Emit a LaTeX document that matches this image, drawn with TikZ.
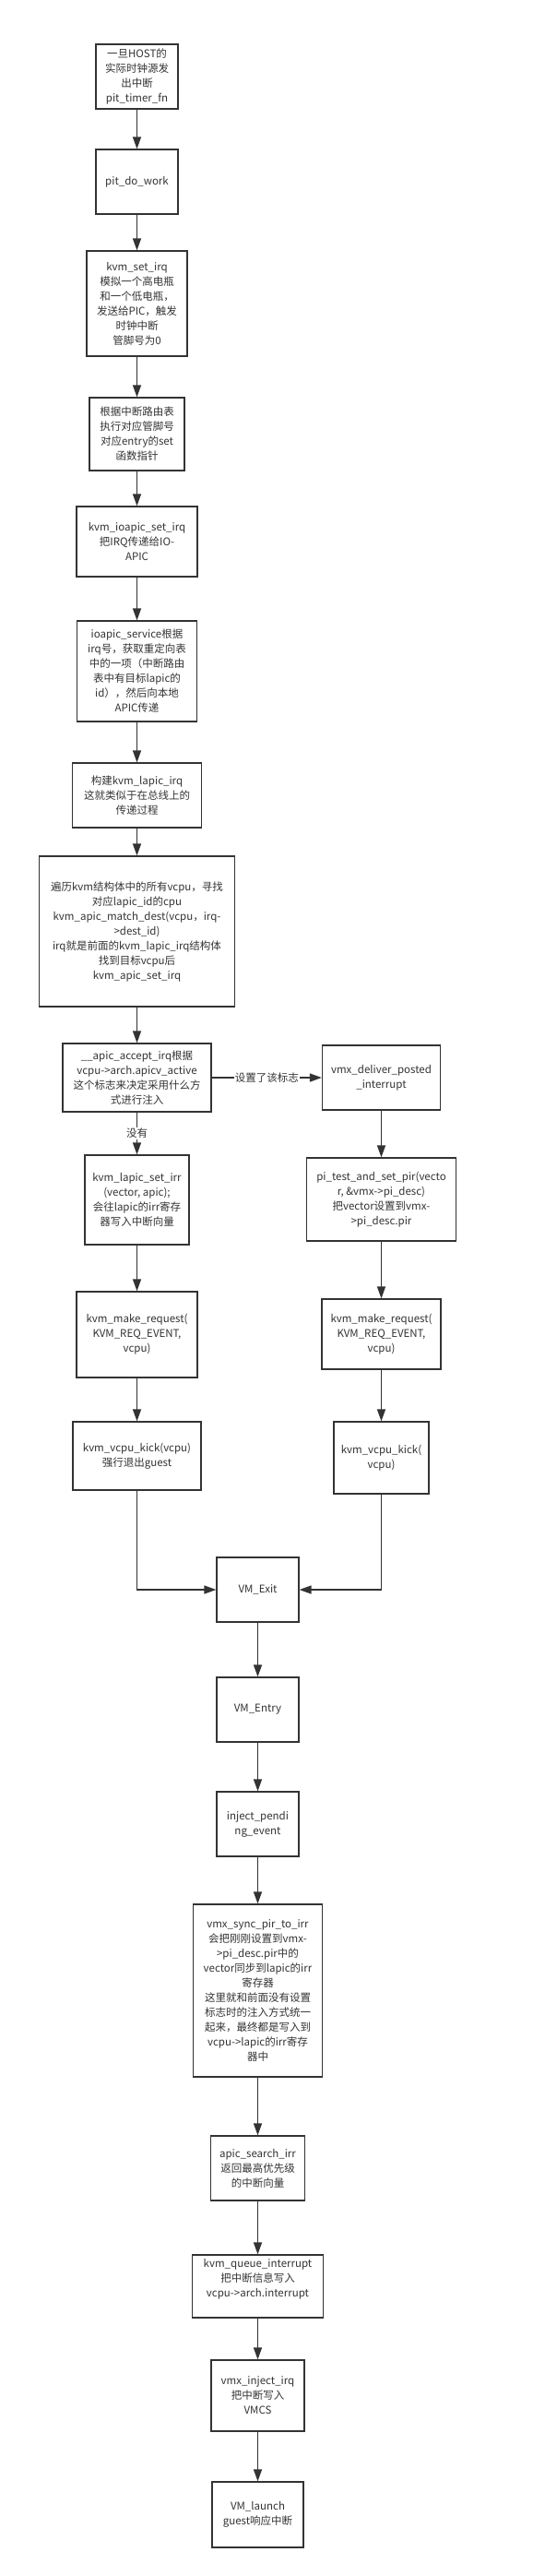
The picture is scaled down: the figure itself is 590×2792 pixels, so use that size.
\documentclass[tikz,border=0pt]{standalone}
\usepackage{fontspec}
\setmainfont{Noto Sans CJK SC}
\usetikzlibrary{arrows.meta}
\definecolor{ink}{HTML}{333333}
\tikzset{
  box/.style={draw=ink, line width=1.3pt, fill=white, text=ink, align=center, inner sep=0pt,
    font=\fontsize{11.5}{16}\selectfont},
  arr/.style={draw=ink, line width=1.4pt, -{Triangle[length=13pt,width=9pt]}},
  lbl/.style={fill=white, text=ink, inner sep=1pt, font=\fontsize{11.5}{16}\selectfont}
}
\begin{document}
\begin{tikzpicture}[x=1pt,y=-1pt]
\useasboundingbox (0,0) rectangle (590,2792);
% left column
\node[box, minimum width=89pt, minimum height=70pt] (n1) at (148.5,83) {一旦HOST的\\实际时钟源发\\出中断\\pit\_timer\_fn};
\node[box, minimum width=89pt, minimum height=70pt] (n2) at (148.5,197) {pit\_do\_work};
\node[box, minimum width=109pt, minimum height=114pt] (n3) at (148.5,329) {kvm\_set\_irq\\模拟一个高电瓶\\和一个低电瓶，\\发送给PIC，触发\\时钟中断\\管脚号为0};
\node[box, minimum width=103pt, minimum height=79pt] (n4) at (148.5,470.5) {根据中断路由表\\执行对应管脚号\\对应entry的set\\函数指针};
\node[box, minimum width=131pt, minimum height=76pt] (n5) at (148.5,587) {kvm\_ioapic\_set\_irq\\把IRQ传递给IO-\\APIC};
\node[box, minimum width=130pt, minimum height=109pt] (n6) at (148.5,727.5) {ioapic\_service根据\\irq号，获取重定向表\\中的一项（中断路由\\表中有目标lapic的\\id），然后向本地\\APIC传递};
\node[box, minimum width=140pt, minimum height=70pt] (n7) at (148.5,862) {构建kvm\_lapic\_irq\\这就类似于在总线上的\\传递过程};
\node[box, minimum width=212pt, minimum height=163pt] (n8) at (148.5,1009.5) {遍历kvm结构体中的所有vcpu，寻找\\对应lapic\_id的cpu\\kvm\_apic\_match\_dest(vcpu，irq-\\>dest\_id)\\irq就是前面的kvm\_lapic\_irq结构体\\找到目标vcpu后\\kvm\_apic\_set\_irq};
\node[box, minimum width=161pt, minimum height=74pt] (n9) at (148.5,1168) {\_\_apic\_accept\_irq根据\\vcpu->arch.apicv\_active\\这个标志来决定采用什么方\\式进行注入};
\node[box, minimum width=113pt, minimum height=97pt] (n11) at (148.5,1300.5) {kvm\_lapic\_set\_irr\\(vector, apic);\\会往lapic的irr寄存\\器写入中断向量};
\node[box, minimum width=131pt, minimum height=93pt] (n13) at (148.5,1446.5) {kvm\_make\_request(\\KVM\_REQ\_EVENT,\\vcpu)};
\node[box, minimum width=139pt, minimum height=74pt] (n15) at (148.5,1578) {kvm\_vcpu\_kick(vcpu)\\强行退出guest};
% right column
\node[box, minimum width=128pt, minimum height=70pt] (n10) at (413.5,1168) {vmx\_deliver\_posted\\\_interrupt};
\node[box, minimum width=162pt, minimum height=90pt] (n12) at (413.5,1300) {pi\_test\_and\_set\_pir(vecto\\r, \&vmx->pi\_desc)\\把vector设置到vmx-\\>pi\_desc.pir};
\node[box, minimum width=129pt, minimum height=76pt] (n14) at (413.5,1446) {kvm\_make\_request(\\KVM\_REQ\_EVENT,\\vcpu)};
\node[box, minimum width=103pt, minimum height=78pt] (n16) at (413.5,1580) {kvm\_vcpu\_kick(\\vcpu)};
% lower column
\node[box, minimum width=89pt, minimum height=70pt] (n17) at (279.5,1723) {VM\_Exit};
\node[box, minimum width=89pt, minimum height=70pt] (n18) at (279.5,1853) {VM\_Entry};
\node[box, minimum width=89pt, minimum height=70pt] (n19) at (279.5,1977) {inject\_pendi\\ng\_event};
\node[box, minimum width=140pt, minimum height=187pt] (n20) at (279.5,2157.5) {vmx\_sync\_pir\_to\_irr\\会把刚刚设置到vmx-\\>pi\_desc.pir中的\\vector同步到lapic的irr\\寄存器\\这里就和前面没有设置\\标志时的注入方式统一\\起来，最终都是写入到\\vcpu->lapic的irr寄存\\器中};
\node[box, minimum width=102pt, minimum height=70pt] (n21) at (279.5,2350) {apic\_search\_irr\\返回最高优先级\\的中断向量};
\node[box, minimum width=142pt, minimum height=68pt, text depth=18pt] (n22) at (279.5,2478) {kvm\_queue\_interrupt\\把中断信息写入\\vcpu->arch.interrupt};
\node[box, minimum width=101pt, minimum height=77pt] (n23) at (279.5,2596.5) {vmx\_inject\_irq\\把中断写入\\VMCS};
\node[box, minimum width=99pt, minimum height=71pt] (n24) at (279.5,2725.5) {VM\_launch\\guest响应中断};
% connectors
\draw[arr] (n1) -- (n2);
\draw[arr] (n2) -- (n3);
\draw[arr] (n3) -- (n4);
\draw[arr] (n4) -- (n5);
\draw[arr] (n5) -- (n6);
\draw[arr] (n6) -- (n7);
\draw[arr] (n7) -- (n8);
\draw[arr] (n8) -- (n9);
\draw[arr] (n9) -- node[lbl] {没有} (n11);
\draw[arr] (n9) -- node[lbl] {设置了该标志} (n10);
\draw[arr] (n11) -- (n13);
\draw[arr] (n13) -- (n15);
\draw[arr] (n10) -- (n12);
\draw[arr] (n12) -- (n14);
\draw[arr] (n14) -- (n16);
\draw[arr] (n15.south) |- (n17.west);
\draw[arr] (n16.south) |- (n17.east);
\draw[arr] (n17) -- (n18);
\draw[arr] (n18) -- (n19);
\draw[arr] (n19) -- (n20);
\draw[arr] (n20) -- (n21);
\draw[arr] (n21) -- (n22);
\draw[arr] (n22) -- (n23);
\draw[arr] (n23) -- (n24);
\end{tikzpicture}
\end{document}
